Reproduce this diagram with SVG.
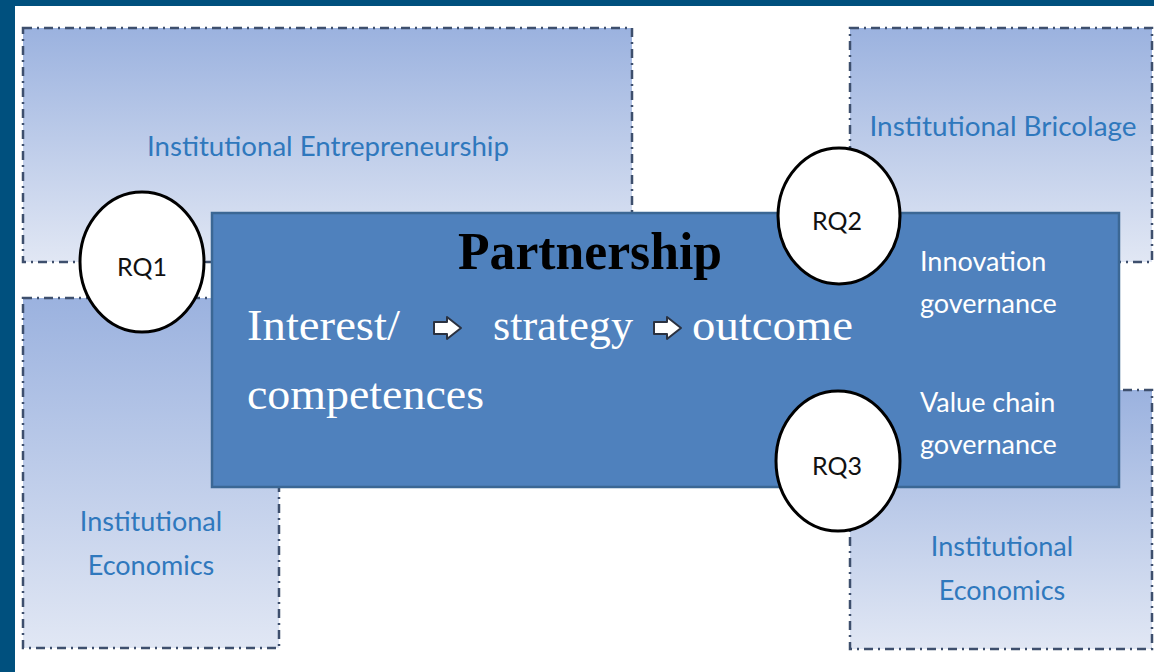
<svg xmlns="http://www.w3.org/2000/svg" width="1154" height="672" viewBox="0 0 1154 672">
<defs>
<linearGradient id="g" x1="0" y1="0" x2="0" y2="1">
<stop offset="0" stop-color="#9bb2df"/>
<stop offset="1" stop-color="#e1e7f4"/>
</linearGradient>
<style>
.box{fill:url(#g);stroke:#3e4f6d;stroke-width:2.5;stroke-dasharray:9 5 2 5}
.lbl{font-family:Lato,"Open Sans",sans-serif;font-size:27px;fill:#2f78bd;text-anchor:middle}
.wt{font-family:Lato,"Open Sans",sans-serif;font-size:27px;fill:#ffffff}
.serif{font-family:"Liberation Serif","DejaVu Serif",serif;font-size:44px;fill:#ffffff}
.rq{fill:#ffffff;stroke:#000000;stroke-width:3}
.rqt{font-family:Lato,"Open Sans",sans-serif;font-size:25px;fill:#111111;text-anchor:middle}
.arr{fill:#ffffff;stroke:#2a3140;stroke-width:2;stroke-linejoin:round}
</style>
</defs>
<rect x="0" y="0" width="1154" height="672" fill="#00507e"/>
<rect x="15" y="6" width="1139" height="666" fill="#ffffff"/>
<g id="box-entrepreneurship">
<rect class="box" x="23" y="28" width="609" height="234"/>
<text class="lbl" x="328" y="156" textLength="362" lengthAdjust="spacingAndGlyphs">Institutional Entrepreneurship</text>
</g>
<g id="box-economics-left">
<rect class="box" x="23" y="298" width="256" height="350"/>
<text class="lbl" x="151" y="531">Institutional</text>
<text class="lbl" x="151" y="575">Economics</text>
</g>
<g id="box-bricolage">
<rect class="box" x="850" y="28" width="302" height="234"/>
<text class="lbl" x="1003" y="136" textLength="267" lengthAdjust="spacingAndGlyphs">Institutional Bricolage</text>
</g>
<g id="box-economics-right">
<rect class="box" x="850" y="390" width="302" height="259"/>
<text class="lbl" x="1002" y="556">Institutional</text>
<text class="lbl" x="1002" y="600">Economics</text>
</g>
<g id="connectors">
<line x1="204" y1="262" x2="213" y2="262" stroke="#3e4f6d" stroke-width="2"/>
</g>
<g id="partnership">
<rect x="212" y="213" width="907" height="274" fill="#4f81bd" stroke="#3b6794" stroke-width="2.5"/>
<text x="590" y="269" font-family="Liberation Serif,serif" font-weight="bold" font-size="52" fill="#000000" text-anchor="middle" textLength="264" lengthAdjust="spacingAndGlyphs">Partnership</text>
<text class="serif" x="247" y="340" textLength="153" lengthAdjust="spacingAndGlyphs">Interest/</text>
<text class="serif" x="493" y="340" textLength="140" lengthAdjust="spacingAndGlyphs">strategy</text>
<text class="serif" x="692" y="340" textLength="161" lengthAdjust="spacingAndGlyphs">outcome</text>
<text class="serif" x="247" y="409" textLength="237" lengthAdjust="spacingAndGlyphs">competences</text>
<path class="arr" d="M434,322 h13 v-5 l14,11 l-14,11 v-5 h-13 z"/>
<path class="arr" d="M654,322 h13 v-5 l14,11 l-14,11 v-5 h-13 z"/>
<text class="wt" x="920" y="271">Innovation</text>
<text class="wt" x="920" y="313">governance</text>
<text class="wt" x="920" y="412">Value chain</text>
<text class="wt" x="920" y="454">governance</text>
</g>
<g id="rq1">
<ellipse class="rq" cx="142" cy="262" rx="62" ry="70"/>
<text class="rqt" x="142" y="276">RQ1</text>
</g>
<g id="rq2">
<ellipse class="rq" cx="839" cy="216" rx="61" ry="68"/>
<text class="rqt" x="837" y="230">RQ2</text>
</g>
<g id="rq3">
<ellipse class="rq" cx="838" cy="461" rx="62" ry="70"/>
<text class="rqt" x="837" y="475">RQ3</text>
</g>
</svg>
